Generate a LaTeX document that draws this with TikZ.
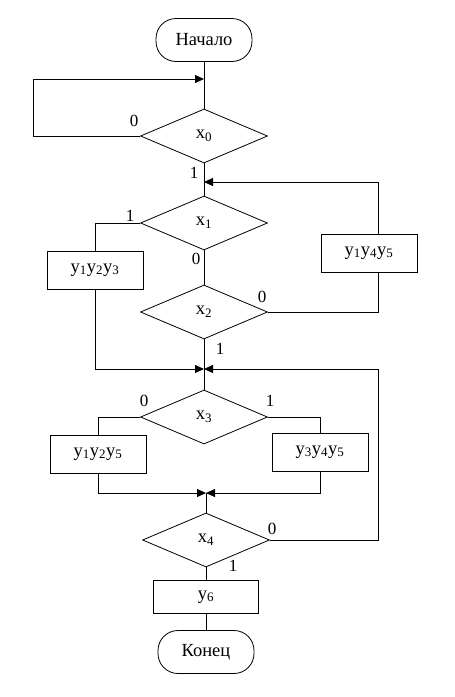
\documentclass[tikz,border=0pt]{standalone}
\usepackage{fontspec}
\setmainfont{Liberation Serif}
\usetikzlibrary{shapes.geometric,arrows.meta}

\begin{document}
\begin{tikzpicture}[x=1pt,y=-1pt,line width=0.8pt,
    arr/.style={-{Triangle[length=9pt,width=8pt]}},
    lbl/.style={font=\fontsize{17}{19}\selectfont,inner sep=0pt}]
\useasboundingbox (0,0) rectangle (455,697);

\begin{scope}[every node/.style={draw,font=\fontsize{18.5}{20}\selectfont,inner sep=0pt}]
    \node (start)[rectangle,rounded corners=20pt,minimum width=96pt,minimum height=43pt] at (204,40) {Начало};
    \node (x0)[diamond,aspect=2.35,minimum width=127pt,minimum height=54pt] at (204,136) {x\textsubscript{0}};
    \node (x1)[diamond,aspect=2.35,minimum width=127pt,minimum height=54pt] at (204,223) {x\textsubscript{1}};
    \node (x2)[diamond,aspect=2.35,minimum width=127pt,minimum height=54pt] at (204,312) {x\textsubscript{2}};
    \node (b123)[minimum width=96pt,minimum height=38pt] at (95,270) {y\textsubscript{1}y\textsubscript{2}y\textsubscript{3}};
    \node (b145)[minimum width=96pt,minimum height=38pt] at (369,253) {y\textsubscript{1}y\textsubscript{4}y\textsubscript{5}};
    \node (x3)[diamond,aspect=2.35,minimum width=127pt,minimum height=54pt] at (204,417) {x\textsubscript{3}};
    \node (b125)[minimum width=96pt,minimum height=38pt] at (98,454) {y\textsubscript{1}y\textsubscript{2}y\textsubscript{5}};
    \node (b345)[minimum width=96pt,minimum height=38pt] at (320,452) {y\textsubscript{3}y\textsubscript{4}y\textsubscript{5}};
    \node (x4)[diamond,aspect=2.35,minimum width=127pt,minimum height=54pt] at (206,540) {x\textsubscript{4}};
    \node (y6)[minimum width=105pt,minimum height=33pt] at (206,597) {y\textsubscript{6}};
    \node (end)[rectangle,rounded corners=20pt,minimum width=96pt,minimum height=43pt] at (206,652) {Конец};
\end{scope}

% merge points and loop corners
\coordinate (m0) at (204,79);
\coordinate (l0) at (33,79);
\coordinate (m1) at (204,182);
\coordinate (r1) at (378,182);
\coordinate (m2) at (204,369);
\coordinate (r2) at (378,369);
\coordinate (m3) at (206,493);

\draw (start) -- (x0);
\draw[arr] (x0.west) -| (l0) -- (m0);
\draw (x0) -- (x1);
\draw[arr] (b145.north -| r1) -- (r1) -- (m1);
\draw (x2.east) -| (b145.south -| r1);
\draw (x1.west) -| (b123.north);
\draw (x1) -- (x2);
\draw[arr] (b123.south) |- (m2);
\draw (x2) -- (x3);
\draw[arr] (x4.east) -| (r2) -- (m2);
\draw (x3.west) -| (b125.north);
\draw (x3.east) -| (b345.north);
\draw[arr] (b125.south) |- (m3);
\draw[arr] (b345.south) |- (m3);
\draw (m3) -- (x4);
\draw (x4) -- (y6);
\draw (y6) -- (end);

\node[lbl] (n0) at (134,121) {0};
\node[lbl] (n1) at (194,173) {1};
\node[lbl] (n2) at (130,216) {1};
\node[lbl] (n3) at (196,259) {0};
\node[lbl] (n4) at (262,297) {0};
\node[lbl] (n5) at (220,349) {1};
\node[lbl] (n6) at (144,401) {0};
\node[lbl] (n7) at (270,401) {1};
\node[lbl] (n8) at (272,529) {0};
\node[lbl] (n9) at (233,566) {1};
\end{tikzpicture}
\end{document}
